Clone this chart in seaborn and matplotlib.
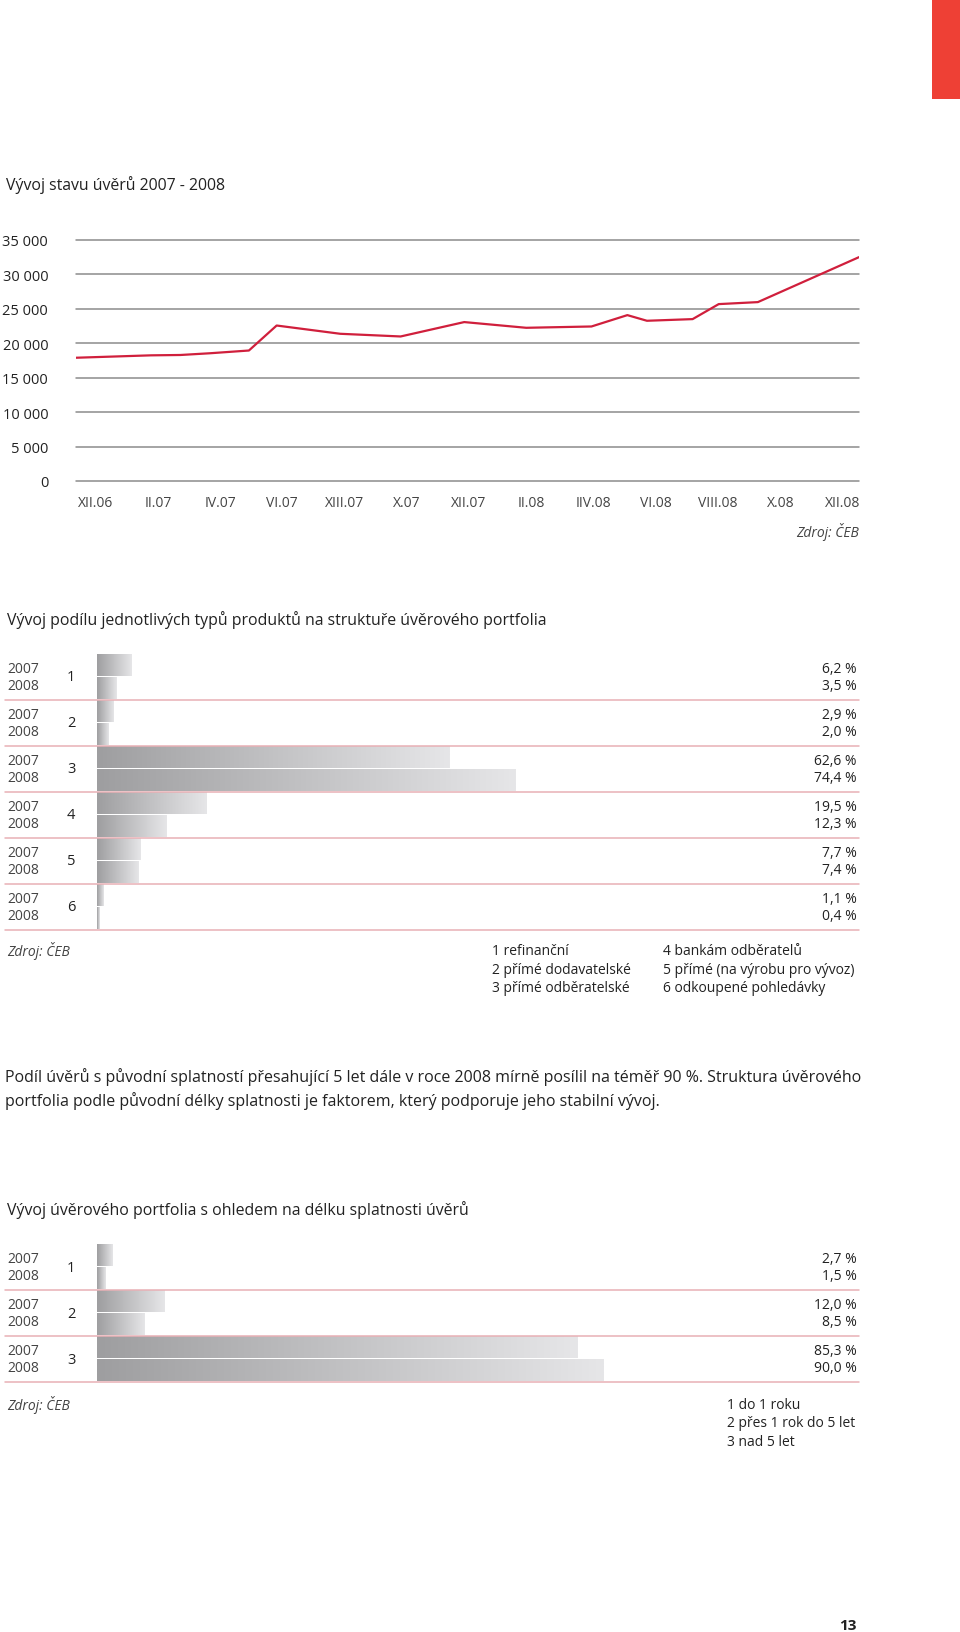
import numpy as np
import pandas as pd
import matplotlib
matplotlib.use("Agg")
import matplotlib.pyplot as plt
import seaborn as sns
from matplotlib.colors import LinearSegmentedColormap
from matplotlib.patches import Rectangle
from matplotlib.transforms import blended_transform_factory

# ===================== Data =====================
# line chart: loan volume, x in months since XII.06
month_pos = [0, 2.3, 3.2, 4.1, 5.3, 6.15, 8.1, 9.95, 11.9, 13.8, 15.8, 16.9, 17.5, 18.9, 19.7, 20.9, 24]
loan_volume = [17900, 18250, 18300, 18550, 18950, 22580, 21380, 20990, 23080, 22250, 22440,
               24090, 23270, 23510, 25690, 25980, 32510]
x_tick_labels = ["XII.06", "II.07", "IV.07", "VI.07", "XIII.07", "X.07", "XII.07",
                 "II.08", "IIV.08", "VI.08", "VIII.08", "X.08", "XII.08"]
y_ticks = [0, 5000, 10000, 15000, 20000, 25000, 30000, 35000]
y_tick_labels = ["0", "5 000", "10 000", "15 000", "20 000", "25 000", "30 000", "35 000"]

# product types
prod_groups = ["1", "2", "3", "4", "5", "6"]
prod_2007 = [6.2, 2.9, 62.6, 19.5, 7.7, 1.1]
prod_2008 = [3.5, 2.0, 74.4, 12.3, 7.4, 0.4]
prod_legend_a = ["1 refinanční", "2 přímé dodavatelské", "3 přímé odběratelské"]
prod_legend_b = ["4 bankám odběratelů", "5 přímé (na výrobu pro vývoz)", "6 odkoupené pohledávky"]

# maturity
mat_groups = ["1", "2", "3"]
mat_2007 = [2.7, 12.0, 85.3]
mat_2008 = [1.5, 8.5, 90.0]
mat_legend = ["1 do 1 roku", "2 přes 1 rok do 5 let", "3 nad 5 let"]

years = ["2007", "2008"]

# ===================== Style =====================
W, H = 960, 1633
RED = "#d01f3c"
TXT = "#222222"
GREY_TXT = "#444444"
SEP = "#e8b0b5"
bar_cmap = LinearSegmentedColormap.from_list("bar", ["#9e9ea0", "#e6e6e8"])

sns.set_theme(style="white")
plt.rcParams["font.family"] = ["Open Sans", "DejaVu Sans"]

fig = plt.figure(figsize=(W / 100, H / 100), dpi=100)


def fx(px):
    return px / W


def fy(py):
    return 1 - py / H


def axes_px(left, top, right, bottom):
    return fig.add_axes([left / W, 1 - bottom / H, (right - left) / W, (bottom - top) / H])


# red page tab
fig.add_artist(Rectangle((fx(932), fy(100)), 28 / W, 100 / H, transform=fig.transFigure,
                         color="#ee4035", lw=0))

# ===================== Line chart =====================
fig.text(fx(6), fy(185), "Vývoj stavu úvěrů 2007 - 2008", fontsize=11.4, color=TXT, va="center")
ax1 = axes_px(76, 241, 859, 482)
sns.lineplot(x=month_pos, y=loan_volume, color=RED, lw=1.6, estimator=None, sort=False, ax=ax1)
for v in y_ticks:
    ax1.axhline(v, color="#8c8c8c", lw=1.1, zorder=0, clip_on=False)
ax1.set_xlim(0, 24)
ax1.set_ylim(0, 35000)
ax1.set_yticks(y_ticks)
ax1.set_yticklabels(y_tick_labels, fontsize=10.5, color=TXT)
ax1.set_xticks(np.linspace(0.6, 23.5, len(x_tick_labels)))
ax1.set_xticklabels(x_tick_labels, fontsize=10, color=GREY_TXT)
ax1.tick_params(axis="y", length=0, pad=20)
ax1.tick_params(axis="x", length=0, pad=10)
sns.despine(ax=ax1, left=True, bottom=True)
fig.text(fx(859), fy(532), "Zdroj: ČEB", fontsize=10, style="italic", color=GREY_TXT,
         ha="right", va="center")


# ===================== Bar charts =====================
def draw_bars(groups, v07, v08, top_px):
    n = len(groups)
    ax = axes_px(97, top_px, 859, top_px + 46 * n)
    df = pd.DataFrame({
        "group": groups * 2,
        "year": [years[0]] * n + [years[1]] * n,
        "share": list(v07) + list(v08),
    })
    sns.barplot(data=df, x="share", y="group", hue="year", orient="h", width=1.0,
                dodge=True, legend=False, ax=ax)
    grad = np.linspace(0, 1, 256).reshape(1, -1)
    for p in list(ax.patches):
        x0, y0, w, h = p.get_x(), p.get_y(), p.get_width(), p.get_height()
        p.set_visible(False)
        ax.imshow(grad, cmap=bar_cmap, aspect="auto", interpolation="bilinear",
                  extent=[x0, x0 + w, y0 + h - 0.015, y0 + 0.015], zorder=2)
    ax.set_xlim(0, 100 * (859 - 97) / 563)
    ax.set_ylim(n - 0.5, -0.5)
    ax.axis("off")

    tr = blended_transform_factory(fig.transFigure, ax.transData)
    for k in range(n):
        ax.plot([fx(5), fx(859)], [k + 0.5, k + 0.5], color=SEP, lw=1.1,
                transform=tr, clip_on=False, zorder=3)
        ax.text(fx(7), k - 0.18, years[0], transform=tr, fontsize=10, color=GREY_TXT, va="center")
        ax.text(fx(7), k + 0.18, years[1], transform=tr, fontsize=10, color=GREY_TXT, va="center")
        ax.text(fx(71), k, groups[k], transform=tr, fontsize=10.5, color=TXT, va="center", ha="center")
        for off, v in ((-0.18, v07[k]), (0.18, v08[k])):
            ax.text(fx(857), k + off, f"{v:.1f}".replace(".", ",") + " %", transform=tr,
                    fontsize=10, color=TXT, va="center", ha="right")
    return ax


fig.text(fx(7), fy(620), "Vývoj podílu jednotlivých typů produktů na struktuře úvěrového portfolia",
         fontsize=11.4, color=TXT, va="center")
draw_bars(prod_groups, prod_2007, prod_2008, 655)
fig.text(fx(7), fy(951), "Zdroj: ČEB", fontsize=10, style="italic", color=GREY_TXT, va="center")
for i, (a, b) in enumerate(zip(prod_legend_a, prod_legend_b)):
    fig.text(fx(492), fy(952 + 18.5 * i), a, fontsize=10, color=TXT, va="center")
    fig.text(fx(663), fy(952 + 18.5 * i), b, fontsize=10, color=TXT, va="center")

# ===================== Paragraph =====================
fig.text(fx(5), fy(1077),
         "Podíl úvěrů s původní splatností přesahující 5 let dále v roce 2008 mírně posílil na téměř 90 %. Struktura úvěrového",
         fontsize=11.5, color=TXT, va="center")
fig.text(fx(5), fy(1101),
         "portfolia podle původní délky splatnosti je faktorem, který podporuje jeho stabilní vývoj.",
         fontsize=11.5, color=TXT, va="center")

# ===================== Maturity chart =====================
fig.text(fx(7), fy(1210), "Vývoj úvěrového portfolia s ohledem na délku splatnosti úvěrů",
         fontsize=11.4, color=TXT, va="center")
draw_bars(mat_groups, mat_2007, mat_2008, 1245)
fig.text(fx(7), fy(1405), "Zdroj: ČEB", fontsize=10, style="italic", color=GREY_TXT, va="center")
for i, t in enumerate(mat_legend):
    fig.text(fx(727), fy(1406 + 18 * i), t, fontsize=10, color=TXT, va="center")

fig.text(fx(848), fy(1626), "13", fontsize=11, weight="bold", color=TXT, ha="center", va="center")

fig.savefig("out.png", dpi=100)
